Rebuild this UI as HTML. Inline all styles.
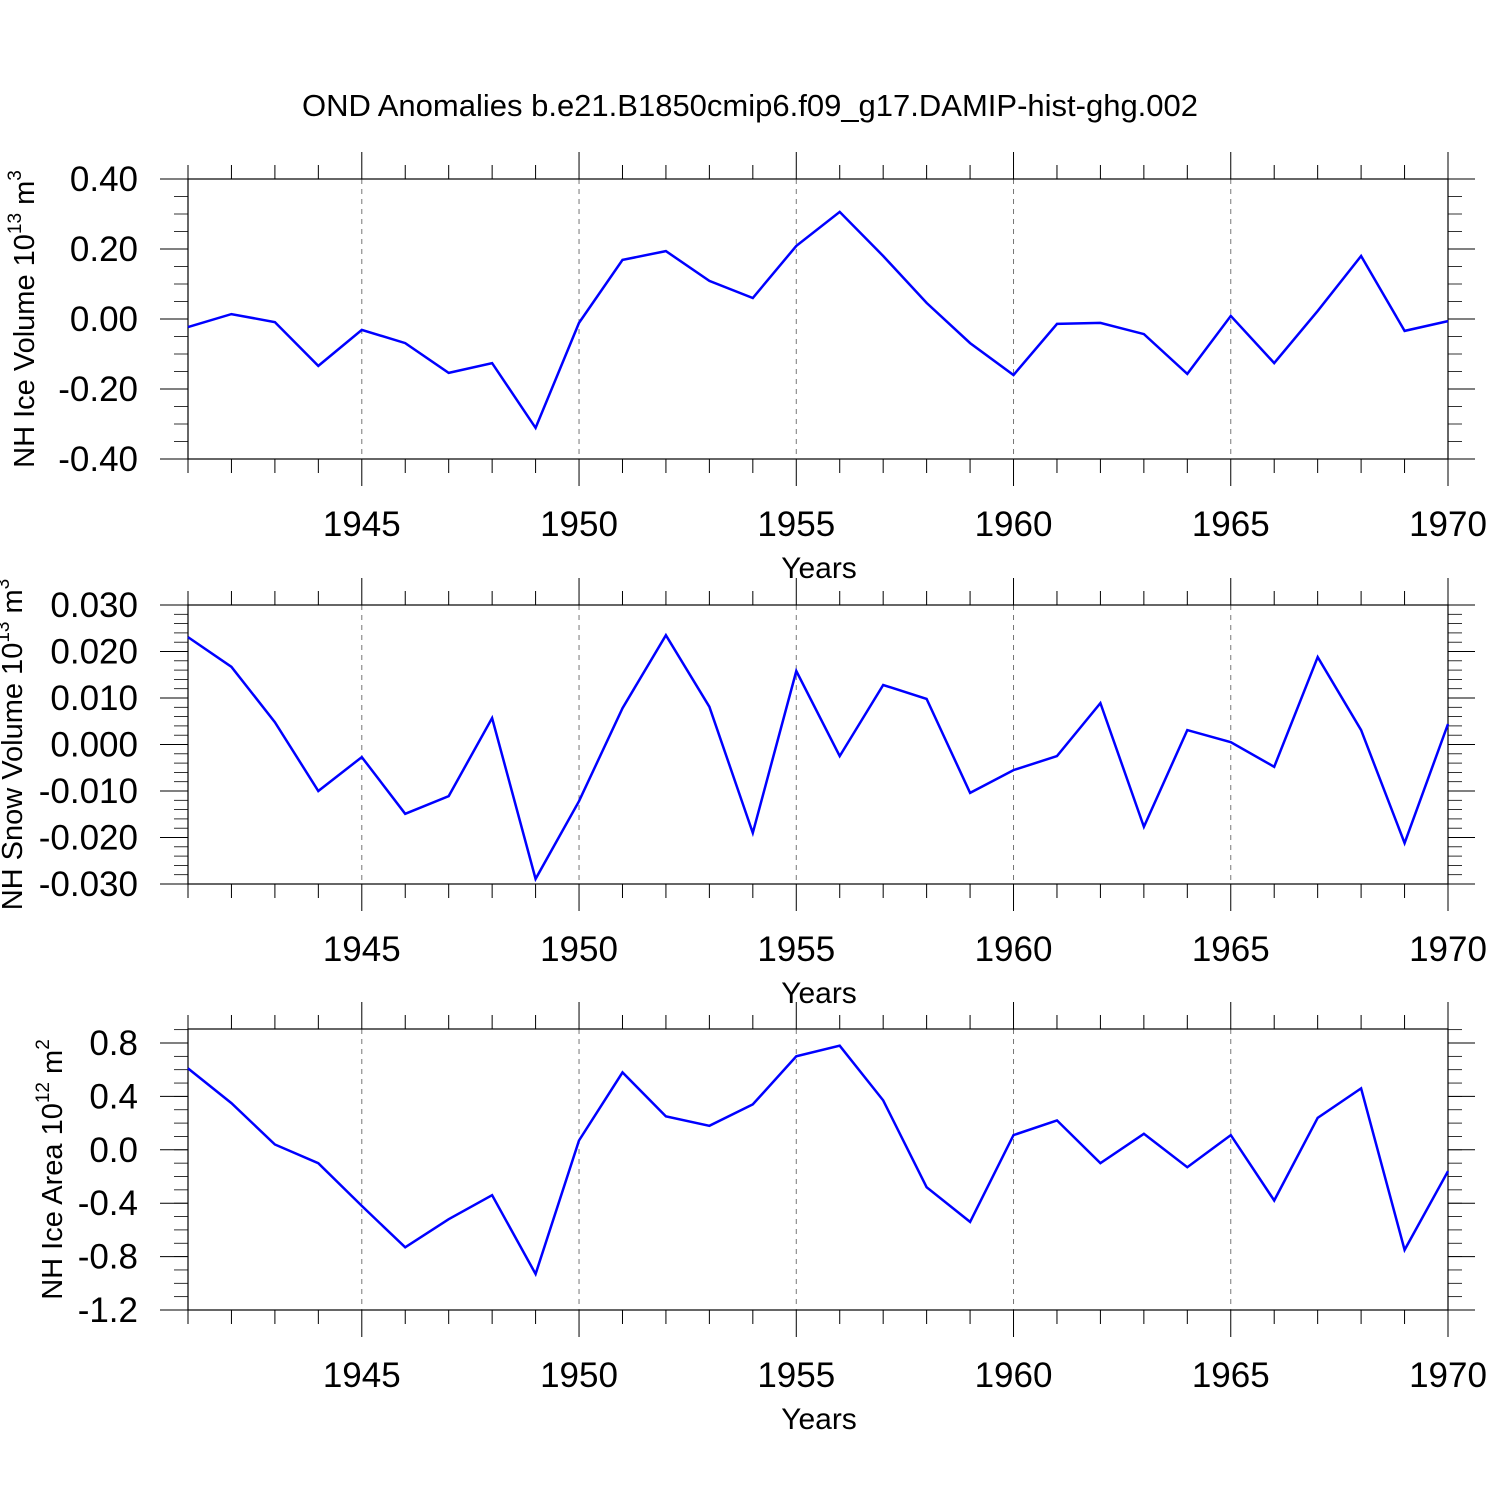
<!DOCTYPE html>
<html><head><meta charset="utf-8"><style>
html,body{margin:0;padding:0;background:#fff}
svg{display:block;font-family:"Liberation Sans",Arial,sans-serif}
</style></head><body>
<svg id="chart" width="1500" height="1500" viewBox="0 0 1500 1500">
<text x="750" y="116" font-size="31" text-anchor="middle">OND Anomalies b.e21.B1850cmip6.f09_g17.DAMIP-hist-ghg.002</text>
</svg>
<script>
const years = [1941,1942,1943,1944,1945,1946,1947,1948,1949,1950,1951,1952,1953,1954,1955,1956,1957,1958,1959,1960,1961,1962,1963,1964,1965,1966,1967,1968,1969,1970];
const iceVolume = [-0.023,0.014,-0.009,-0.134,-0.031,-0.069,-0.154,-0.126,-0.311,-0.011,0.169,0.194,0.109,0.06,0.209,0.306,0.18,0.046,-0.069,-0.16,-0.014,-0.011,-0.043,-0.157,0.009,-0.126,0.023,0.18,-0.034,-0.006];
const snowVolume = [0.0231,0.0167,0.0048,-0.0100,-0.0027,-0.0149,-0.0111,0.0057,-0.0289,-0.0122,0.0078,0.0235,0.0081,-0.0190,0.0158,-0.0025,0.0128,0.0098,-0.0104,-0.0055,-0.0025,0.0089,-0.0177,0.0031,0.0005,-0.0048,0.0188,0.0031,-0.0212,0.0044];
const iceArea = [0.61,0.35,0.04,-0.10,-0.42,-0.73,-0.52,-0.34,-0.93,0.07,0.58,0.25,0.18,0.34,0.70,0.78,0.37,-0.28,-0.54,0.11,0.22,-0.10,0.12,-0.13,0.11,-0.38,0.24,0.46,-0.75,-0.16];
const xTickLabels = [1945,1950,1955,1960,1965,1970];
const iceVolTicks = ["0.40","0.20","0.00","-0.20","-0.40"];
const snowTicks = ["0.030","0.020","0.010","0.000","-0.010","-0.020","-0.030"];
const areaTicks = ["0.8","0.4","0.0","-0.4","-0.8","-1.2"];

const svg = document.getElementById('chart');
const NS = 'http://www.w3.org/2000/svg';
const X0 = 188, X1 = 1448, YR0 = 1941, YR1 = 1970;
const xs = y => X0 + (y - YR0) * (X1 - X0) / (YR1 - YR0);
function mk(tag, attrs, parent){ const e=document.createElementNS(NS,tag); for(const k in attrs) e.setAttribute(k,attrs[k]); (parent||svg).appendChild(e); return e; }

const panels = [
 {key:'ice-volume', top:179, bot:459, vmin:-0.40, vmax:0.40, ticks:iceVolTicks, minor:0.05, data:iceVolume, title:['NH Ice Volume 10','13',' m','3'], tx:34},
 {key:'snow-volume', top:605, bot:884, vmin:-0.030, vmax:0.030, ticks:snowTicks, minor:0.002, data:snowVolume, title:['NH Snow Volume 10','13',' m','3'], tx:22},
 {key:'ice-area', top:1029, bot:1310, vmin:-1.2, vmax:0.906, ticks:areaTicks, minor:0.1, data:iceArea, title:['NH Ice Area 10','12',' m','2'], tx:62, scaleTop:0.8, scaleTopY:1043}
];

panels.forEach(p => {
  let ys;
  if (p.scaleTopY) { const s=(p.bot-p.scaleTopY)/(p.scaleTop-p.vmin); ys = v => p.bot - (v-p.vmin)*s; }
  else ys = v => p.bot - (v-p.vmin)*(p.bot-p.top)/(p.vmax-p.vmin);
  const g = mk('g',{});
  
  
  xTickLabels.forEach(yr => { if (yr<YR1){ const l=mk('line',{x1:xs(yr),x2:xs(yr),y1:p.top,y2:p.bot,stroke:'#777','stroke-width':1,'stroke-dasharray':'5,5'},g);
      }});
  const fr = mk('rect',{x:X0,y:p.top,width:X1-X0,height:p.bot-p.top,fill:'none',stroke:'#000','stroke-width':1.2},g);
   
  years.forEach(yr => {
    const major = yr%5===0; const len = major?27:14; const x=xs(yr);
    mk('line',{x1:x,x2:x,y1:p.top,y2:p.top-len,stroke:'#000','stroke-width':1},g);
    mk('line',{x1:x,x2:x,y1:p.bot,y2:p.bot+len,stroke:'#000','stroke-width':1},g);
  });
  xTickLabels.forEach(yr => {
    const t = mk('text',{x:xs(yr),y:p.bot+77,'font-size':35,'text-anchor':'middle'},g);
    t.textContent = yr;
     
  });
  const xt = mk('text',{x:819,y:p.bot+119,'font-size':30,'text-anchor':'middle'},g);
  xt.textContent='Years';
   
  p.ticks.forEach(s => {
    const v=parseFloat(s), y=ys(v);
    mk('line',{x1:X0-28,x2:X0,y1:y,y2:y,stroke:'#000','stroke-width':1},g);
    mk('line',{x1:X1,x2:X1+27,y1:y,y2:y,stroke:'#000','stroke-width':1},g);
    const t=mk('text',{x:138,y:y+12,'font-size':35,'text-anchor':'end'},g);
    t.textContent=s;
     
  });
  const n = Math.round((p.vmax-p.vmin)/p.minor);
  for(let i=0;i<=n;i++){ const v=p.vmin+i*p.minor; const y=ys(v); if(y<p.top-0.5) continue;
    mk('line',{x1:X0-14,x2:X0,y1:y,y2:y,stroke:'#000','stroke-width':0.8},g);
    mk('line',{x1:X1,x2:X1+14,y1:y,y2:y,stroke:'#000','stroke-width':0.8},g); }
  const cy=(p.top+p.bot)/2;
  const yt=mk('text',{x:p.tx,y:cy,'font-size':29,'text-anchor':'middle',transform:`rotate(-90 ${p.tx} ${cy})`},g);
   
  p.title.forEach((s,i)=>{ const ts=mk('tspan',{},yt); ts.textContent=s;
    if(i%2===1){ts.setAttribute('font-size','19');ts.setAttribute('dy','-13');}
    else if(i>0){ts.setAttribute('dy','13');} });
  const pts = p.data.map((v,i)=>xs(years[i]).toFixed(1)+','+ys(v).toFixed(1)).join(' ');
  const line = mk('polyline',{points:pts,fill:'none',stroke:'#0000ff','stroke-width':2.5,'stroke-linejoin':'miter'},g);
  
  
});
</script>
</body></html>
